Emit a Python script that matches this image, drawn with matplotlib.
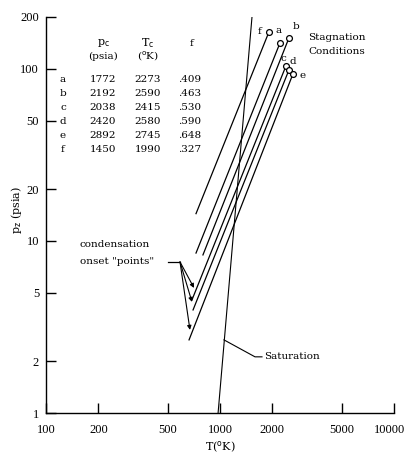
import matplotlib
matplotlib.use("Agg")
import matplotlib.pyplot as plt
import matplotlib.transforms as mtransforms
from matplotlib.ticker import FixedLocator, FixedFormatter, NullLocator

plt.rcParams['font.family'] = ['DejaVu Serif']

# ---- data ----
cases = ['a', 'b', 'c', 'd', 'e', 'f']
pc_psia = ['1772', '2192', '2038', '2420', '2892', '1450']
Tc_K = ['2273', '2590', '2415', '2580', '2745', '1990']
f_vals = ['.409', '.463', '.530', '.590', '.648', '.327']

# stagnation (circle) end of each expansion line
T_stag = [2213, 2492, 2394, 2492, 2627, 1912]
p_stag = [141.6, 151.4, 104.0, 98.7, 93.5, 164.0]
# condensation onset end of each line
T_onset = [728, 798, 690, 700, 664, 728]
p_onset = [8.5, 8.29, 4.54, 3.97, 2.66, 14.4]

# saturation line
T_sat = [1527, 975]
p_sat = [200, 1.0]

x_ticks = [100, 200, 500, 1000, 2000, 5000, 10000]
y_ticks = [1, 2, 5, 10, 20, 50, 100, 200]

W, H = 408, 459
fig = plt.figure(figsize=(W / 100, H / 100), dpi=100)
ax = fig.add_axes([46 / W, 1 - 413 / H, (394 - 46) / W, (413 - 17) / H])
ax.set_xscale('log')
ax.set_yscale('log')
ax.set_xlim(100, 10000)
ax.set_ylim(1, 200)

for s in ['top', 'right']:
    ax.spines[s].set_visible(False)
for s in ['left', 'bottom']:
    ax.spines[s].set_linewidth(1.0)

ax.xaxis.set_major_locator(FixedLocator(x_ticks))
ax.xaxis.set_major_formatter(FixedFormatter([str(v) for v in x_ticks]))
ax.xaxis.set_minor_locator(NullLocator())
ax.yaxis.set_major_locator(FixedLocator(y_ticks))
ax.yaxis.set_major_formatter(FixedFormatter([str(v) for v in y_ticks]))
ax.yaxis.set_minor_locator(NullLocator())
ax.tick_params(axis='both', which='major', direction='in', length=7, width=1.0,
               labelsize=9, pad=5)
ax.tick_params(axis='x', pad=8)
for lab in ax.get_xticklabels() + ax.get_yticklabels():
    lab.set_family(['Liberation Serif', 'DejaVu Serif'])
# nudge the last x label so it stays inside the figure
last = ax.get_xticklabels()[-1]
last.set_transform(last.get_transform() +
                   mtransforms.ScaledTranslation(-4 / 100, 0, fig.dpi_scale_trans))

# expansion lines
for i, c in enumerate(cases):
    ax.plot([T_onset[i], T_stag[i]], [p_onset[i], p_stag[i]], color='black', lw=0.9)
    ax.plot([T_stag[i]], [p_stag[i]], marker='o', ms=4.2, mfc='white', mec='black',
            mew=0.9, color='black')

label_offsets = {'a': (-1, 9), 'b': (5, 8), 'c': (-2, 5), 'd': (3, 6), 'e': (7, -1), 'f': (-7, 0)}
for i, c in enumerate(cases):
    dx, dy = label_offsets[c]
    ax.annotate(c, (T_stag[i], p_stag[i]), xytext=(dx, dy), textcoords='offset points',
                ha='center', va='center', fontsize=7.5)

# saturation line
ax.plot(T_sat, p_sat, color='black', lw=0.8)

# saturation leader
ax.plot([1054, 1589, 1743], [2.66, 2.12, 2.12], color='black', lw=0.8)
ax.text(1800, 2.12, 'Saturation', fontsize=7.5, ha='left', va='center')

# condensation onset leader
ax.plot([505, 589], [7.55, 7.55], color='black', lw=0.9)
for tx, ty in [(709, 5.33), (690, 4.42), (672, 3.04)]:
    ax.annotate('', xy=(tx, ty), xytext=(589, 7.55),
                arrowprops=dict(arrowstyle='-|>', color='black', lw=0.8,
                                mutation_scale=6, shrinkA=0, shrinkB=0))
fig.text(80 / W, 1 - 245 / H, 'condensation', fontsize=7.5, ha='left', va='center')
fig.text(80 / W, 1 - 261 / H, 'onset "points"', fontsize=7.5, ha='left', va='center')

# stagnation label
fig.text(308 / W, 1 - 37 / H, 'Stagnation', fontsize=7.5, ha='left', va='center')
fig.text(308 / W, 1 - 52 / H, 'Conditions', fontsize=7.5, ha='left', va='center')

# table
fig.text(103 / W, 1 - 43 / H, r'p$_\mathrm{c}$', fontsize=8, ha='center', va='center')
fig.text(103 / W, 1 - 56 / H, '(psia)', fontsize=7.5, ha='center', va='center')
fig.text(148 / W, 1 - 43 / H, r'T$_\mathrm{c}$', fontsize=8, ha='center', va='center')
fig.text(148 / W, 1 - 56 / H, r'($^\mathrm{o}$K)', fontsize=7.5, ha='center', va='center')
fig.text(192 / W, 1 - 43 / H, 'f', fontsize=7.5, ha='center', va='center')
row_y = [80, 94, 108, 121, 135, 149]
for i, c in enumerate(cases):
    y = 1 - row_y[i] / H
    fig.text(63 / W, y, c, fontsize=7.5, ha='center', va='center')
    fig.text(103 / W, y, pc_psia[i], fontsize=7.5, ha='center', va='center')
    fig.text(148 / W, y, Tc_K[i], fontsize=7.5, ha='center', va='center')
    fig.text(190 / W, y, f_vals[i], fontsize=7.5, ha='center', va='center')

# axis labels
fig.text(220 / W, 1 - 447 / H, r'T($^\mathrm{o}$K)', fontsize=8, ha='center', va='center')
fig.text(16 / W, 1 - 210 / H, r'p$_\mathrm{z}$ (psia)', fontsize=8, ha='center',
         va='center', rotation=90)

fig.savefig('out.png', dpi=100, facecolor='white')
